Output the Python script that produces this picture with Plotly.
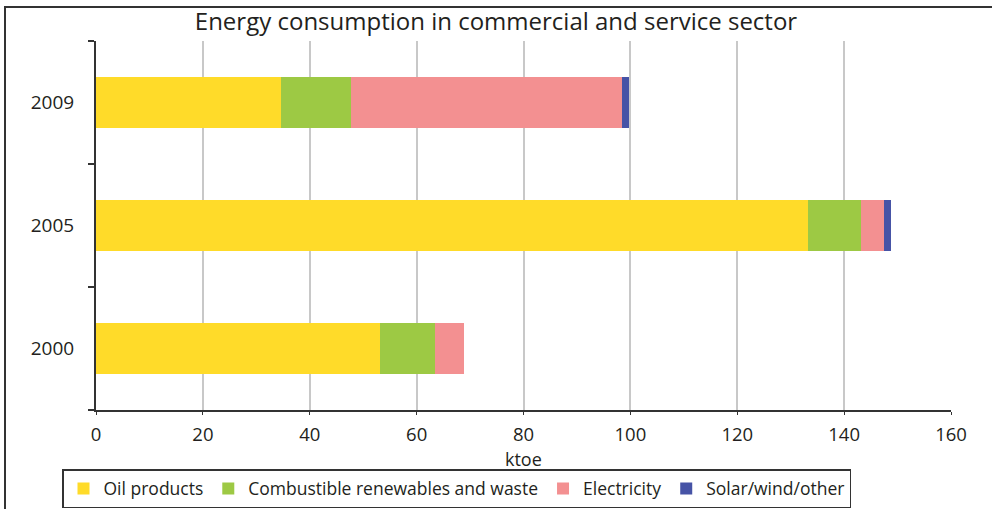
import plotly.graph_objects as go

years = ["2000", "2005", "2009"]
series_names = ["Oil products", "Combustible renewables and waste", "Electricity", "Solar/wind/other"]
oil = [53.1, 133.2, 34.6]
combustible = [10.4, 10.0, 13.1]
electricity = [5.4, 4.2, 50.7]
solar = [0.0, 1.4, 1.3]
colors = ["#FFDB29", "#9DC944", "#F39091", "#4653A6"]
x_ticks = [0, 20, 40, 60, 80, 100, 120, 140, 160]
x_title = "ktoe"

FONT = "Open Sans"
TXT = "#231F20"

fig = go.Figure()
for name, vals, col in zip(series_names, [oil, combustible, electricity, solar], colors):
    fig.add_trace(go.Bar(y=years, x=vals, name=name, orientation="h",
                         marker=dict(color=col, line=dict(width=0))))

# plot area in pixels: x 96..951, y 41..410
W, H = 992, 509
L, R, T, B = 96, 41, 41, 99
pw, ph = W - L - R, H - T - B

def px(x):
    return (x - L) / pw

def py(y):
    return (H - B - y) / ph

fig.update_layout(
    width=W, height=H,
    margin=dict(l=L, r=R, t=T, b=B, autoexpand=False),
    barmode="stack",
    bargap=0.593,
    plot_bgcolor="white",
    paper_bgcolor="white",
    font=dict(family=FONT, size=19, color=TXT),
    title=dict(text="Energy consumption in commercial and service sector",
               x=0.5, xanchor="center", y=1 - 22 / H, yanchor="middle",
               font=dict(size=24, color=TXT)),
    showlegend=True,
    legend=dict(orientation="h", xref="container", yref="container",
                x=62 / W, y=1 - 508 / H, xanchor="left", yanchor="bottom",
                bordercolor="#333333", borderwidth=1.5, bgcolor="white",
                font=dict(size=17.5, color=TXT), traceorder="normal",
                itemwidth=30, tracegroupgap=0),
    xaxis=dict(range=[0, 160], tickvals=x_ticks, ticktext=[str(v) for v in x_ticks],
               showgrid=True, gridcolor="#C8C8C8", gridwidth=1.5,
               showline=True, linecolor="#333333", linewidth=2,
               ticks="outside", ticklen=3, tickcolor="#333333", tickwidth=1,
               ticklabelstandoff=4, tickfont=dict(size=18.5),
               zeroline=False, fixedrange=True, automargin=False),
    yaxis=dict(type="category", categoryorder="array", categoryarray=years,
               showline=True, linecolor="#333333", linewidth=2,
               ticks="outside", ticklen=6, tickcolor="#333333", tickwidth=1.5,
               tickson="boundaries", showgrid=False, zeroline=False,
               ticklabelstandoff=16, fixedrange=True, automargin=False),
    annotations=[dict(text=x_title, xref="paper", yref="paper", x=0.5, y=py(459),
                      xanchor="center", yanchor="middle", showarrow=False,
                      font=dict(size=18, color=TXT))],
    shapes=[dict(type="rect", xref="paper", yref="paper",
                 x0=px(5), x1=px(996), y0=py(513), y1=py(7),
                 line=dict(color="#333333", width=2), fillcolor="rgba(0,0,0,0)", layer="below")],
)

fig.write_html("out.html")
